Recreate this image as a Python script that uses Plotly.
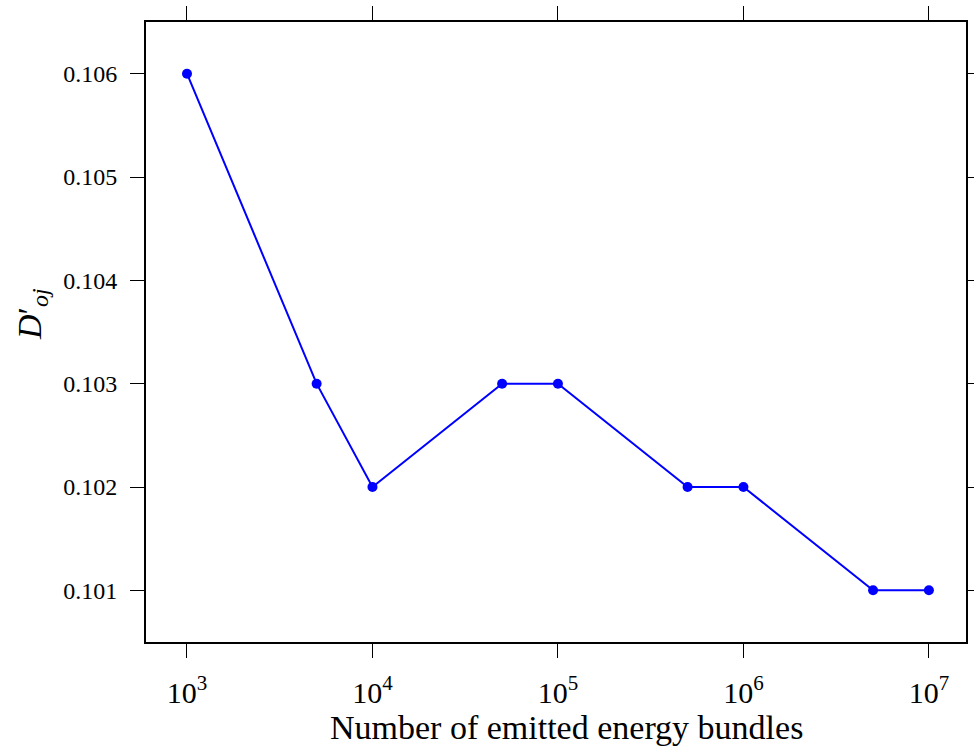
import plotly.graph_objects as go

# Convergence of D'_oj with the number of emitted energy bundles
bundles = [1e3, 5e3, 1e4, 5e4, 1e5, 5e5, 1e6, 5e6, 1e7]
d_oj = [0.106, 0.103, 0.102, 0.103, 0.103, 0.102, 0.102, 0.101, 0.101]

y_ticks = [0.101, 0.102, 0.103, 0.104, 0.105, 0.106]
y_tick_text = ["0.101", "0.102", "0.103", "0.104", "0.105", "0.106"]

font_family = "Liberation Serif"

fig = go.Figure()
fig.add_trace(go.Scatter(
    x=bundles, y=d_oj, mode="lines+markers",
    line=dict(color="#0000ff", width=2),
    marker=dict(color="#0000ff", size=10),
    showlegend=False,
))

axis_common = dict(
    showline=True, linecolor="black", linewidth=2, mirror="ticks",
    ticks="outside", ticklen=14, tickwidth=1.3, tickcolor="black",
    showgrid=False, zeroline=False, automargin=False,
    tickfont=dict(family=font_family, size=24, color="black"),
)

fig.update_xaxes(
    type="log", range=[2.779, 7.2], dtick=1, exponentformat="power",
    ticklabelstandoff=10,
    **axis_common,
)
fig.update_yaxes(
    range=[0.1005, 0.1065], tickvals=y_ticks, ticktext=y_tick_text,
    ticklabelstandoff=8,
    **axis_common,
)

# axis titles placed as annotations
fig.add_annotation(
    text="Number of emitted energy bundles",
    xref="paper", yref="paper", x=0.5, y=0,
    xanchor="center", yanchor="top", xshift=10, yshift=-65,
    showarrow=False,
    font=dict(family=font_family, size=34, color="black"),
)
fig.add_annotation(
    text="<i>D</i>′<sub><i>oj</i></sub>",
    xref="paper", yref="paper", x=0, y=0.5,
    xanchor="center", yanchor="middle", xshift=-114, yshift=18,
    textangle=-90, showarrow=False,
    font=dict(family=font_family, size=34, color="black"),
)

fig.update_layout(
    width=974, height=751,
    margin=dict(l=146, r=8, t=22, b=109),
    plot_bgcolor="white", paper_bgcolor="white",
    font=dict(family=font_family, color="black"),
)

fig.write_html("out.html")
